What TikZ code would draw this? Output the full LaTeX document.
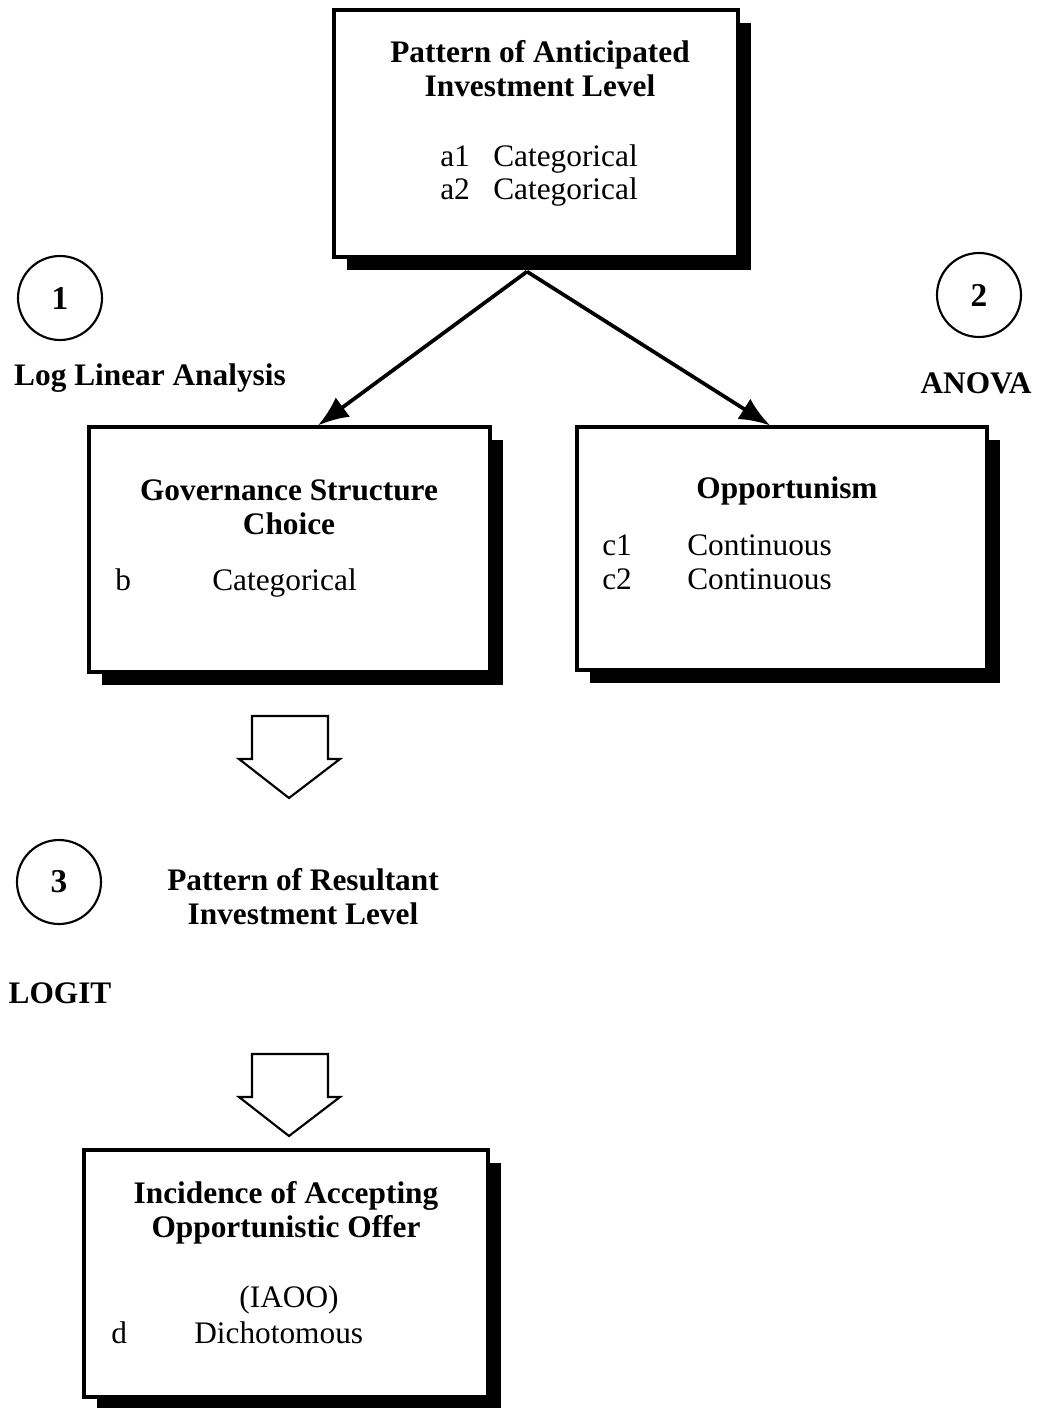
\documentclass[tikz,border=0pt]{standalone}
\usepackage{fontspec}
\setmainfont{Liberation Serif}
\usetikzlibrary{shadows,arrows.meta}

\begin{document}
\begin{tikzpicture}[x=0.75pt,y=-0.75pt,>={Latex[length=23pt,width=18pt]},
    box/.style={draw,line width=2.4pt,fill=white,inner sep=0pt,
      drop shadow={shadow xshift=9.75pt,shadow yshift=-9.75pt,fill=black,opacity=1}},
    txt/.style={inner sep=0pt,font=\fontsize{23.5}{25.5}\selectfont,
      text height=.7em,text depth=.25em},
    hd/.style={inner sep=0pt,font=\fontsize{23.5}{25.5}\selectfont\bfseries,align=center},
    ring/.style={draw,circle,line width=1.6pt,minimum size=63pt,inner sep=0pt,
      font=\fontsize{25}{27}\selectfont\bfseries},
    hollow/.style={draw,line width=1.6pt,line join=miter}]
    \useasboundingbox (0,0) rectangle (1041,1408) ;

    % the four variable boxes
    \node [box,minimum width=303pt,minimum height=185.25pt] (anticip) at (536,133.5) {} ;
    \node [box,minimum width=300.75pt,minimum height=183.75pt] (govern) at (289.5,549.5) {} ;
    \node [box,minimum width=307.5pt,minimum height=182.25pt] (opport) at (782,548.5) {} ;
    \node [box,minimum width=303pt,minimum height=185.25pt] (incid) at (286,1273.5) {} ;

    \node [hd] (anticiphd) at (540,69) {Pattern of Anticipated\\Investment Level} ;
    \node [txt,anchor=west] (aone) at (440,164) {a1} ;
    \node [txt,anchor=west] (aonev) at (493,164) {Categorical} ;
    \node [txt,anchor=west] (atwo) at (440,197) {a2} ;
    \node [txt,anchor=west] (atwov) at (493,197) {Categorical} ;

    \node [hd] (governhd) at (289,507) {Governance Structure\\Choice} ;
    \node [txt,anchor=west] (bvar) at (115,587) {b} ;
    \node [txt,anchor=west] (bvarv) at (212,587) {Categorical} ;

    \node [hd] (opporthd) at (787,491) {Opportunism} ;
    \node [txt,anchor=west] (cone) at (602,552) {c1} ;
    \node [txt,anchor=west] (conev) at (687,552) {Continuous} ;
    \node [txt,anchor=west] (ctwo) at (602,586) {c2} ;
    \node [txt,anchor=west] (ctwov) at (687,586) {Continuous} ;

    \node [hd] (incidhd) at (286,1213) {Incidence of Accepting\\Opportunistic Offer} ;
    \node [txt] (iaoo) at (289,1304) {(IAOO)} ;
    \node [txt,anchor=west] (dvar) at (111,1340) {d} ;
    \node [txt,anchor=west] (dvarv) at (194,1340) {Dichotomous} ;

    % numbered steps and methods
    \node [ring] (one) at (60,298) {1} ;
    \node [ring] (two) at (979,295) {2} ;
    \node [ring] (three) at (59,882) {3} ;
    \node [hd] (loglin) at (150,378) {Log Linear Analysis} ;
    \node [hd] (anova) at (976,383) {ANOVA} ;
    \node [hd] (logit) at (60,993) {LOGIT} ;
    \node [hd] (resultant) at (303,897) {Pattern of Resultant\\Investment Level} ;

    % arrows
    \coordinate (fork) at ([xshift=-6.75pt,yshift=-9.75pt]anticip.south) ;
    \coordinate (govtip) at ([xshift=21.4pt]govern.north) ;
    \coordinate (opptip) at ([xshift=-9pt]opport.north) ;
    \draw [->,line width=2.8pt] (fork) -- (govtip) ;
    \draw [->,line width=2.8pt] (fork) -- (opptip) ;

    \foreach \t in {716,1054}
      \draw [hollow] (252,\t) -- (328,\t) -- (328,\t+43) -- (340,\t+43) --
      (289,\t+82) -- (239,\t+43) -- (252,\t+43) -- cycle ;
\end{tikzpicture}
\end{document}
